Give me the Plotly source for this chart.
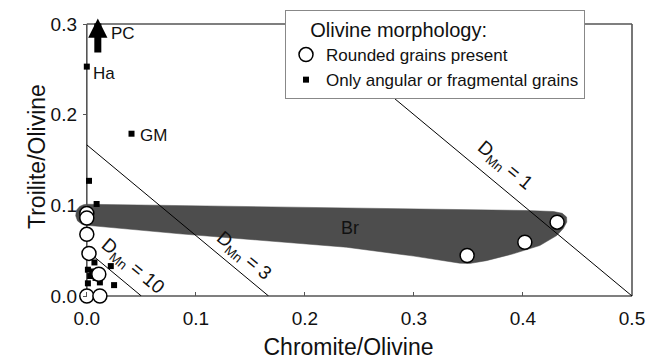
import plotly.graph_objects as go

# ---- data ----
rounded_x = [0.0, 0.0, 0.0, 0.002, 0.011, 0.0, 0.012, 0.3488, 0.4017, 0.4313]
rounded_y = [0.091, 0.086, 0.068, 0.047, 0.024, 0.0, 0.0, 0.0447, 0.0593, 0.0814]

angular_x = [0.0, 0.041, 0.002, 0.009, 0.007, 0.001, 0.005, 0.003, 0.008, 0.001, 0.012, 0.022, 0.025]
angular_y = [0.253, 0.179, 0.127, 0.1015, 0.037, 0.029, 0.027, 0.022, 0.020, 0.014, 0.015, 0.033, 0.012]

br_x = [0.0, 0.1, 0.2, 0.3, 0.403, 0.428, 0.436, 0.4400, 0.4402, 0.437, 0.431, 0.4155, 0.391,
        0.3665, 0.351, 0.342, 0.3, 0.238, 0.16, 0.0853, 0.0, -0.0045, -0.0085, -0.0102,
        -0.0095, -0.0065, -0.003, 0.0]
br_y = [0.1012, 0.0996, 0.098, 0.0962, 0.0943, 0.0932, 0.0912, 0.0870, 0.0815, 0.0745, 0.0667,
        0.0557, 0.0465, 0.039, 0.0358, 0.0362, 0.044, 0.0538, 0.0615, 0.0686, 0.078, 0.0792,
        0.0828, 0.0885, 0.0945, 0.0988, 0.1007, 0.1012]

dmn_values = [1, 3, 10]
dmn_intercepts = [0.5, 0.1667, 0.05]
dmn_label_x = [0.383, 0.143, 0.042]
dmn_label_y = [0.143, 0.0436, 0.0325]

point_labels = ["Ha", "GM", "PC"]
point_label_x = [0.0037, 0.047, 0.02]
point_label_y = [0.2457, 0.177, 0.289]

pc_arrow_x = 0.0101
pc_arrow_tail = 0.267
pc_arrow_tip = 0.306

br_label = "Br"
br_label_x = 0.241
br_label_y = 0.075

x_ticks = [0.0, 0.1, 0.2, 0.3, 0.4, 0.5]
x_ticktext = ["0.0", "0.1", "0.2", "0.3", "0.4", "0.5"]
y_ticks = [0.0, 0.1, 0.2, 0.3]
y_ticktext = ["0.0", "0.1", "0.2", "0.3"]

x_title = "Chromite/Olivine"
y_title = "Troilite/Olivine"

x_range = [-0.02, 0.5]
y_range = [0.0, 0.3]

FONT = "Liberation Sans, Arial, sans-serif"
INK = "#111111"

fig = go.Figure()

# Br field
fig.add_trace(go.Scatter(x=br_x, y=br_y, mode="lines", fill="toself",
                         fillcolor="#4d4d4d", line=dict(color="#4d4d4d", width=0.5),
                         showlegend=False, hoverinfo="skip"))

# D_Mn lines
for d, c in zip(dmn_values, dmn_intercepts):
    fig.add_trace(go.Scatter(x=[0.0, c], y=[c, 0.0], mode="lines",
                             line=dict(color="black", width=1),
                             showlegend=False, hoverinfo="skip"))

# angular grains
fig.add_trace(go.Scatter(x=angular_x, y=angular_y, mode="markers",
                         name="Only angular or fragmental grains", legendrank=2,
                         marker=dict(symbol="square", size=6, color="black",
                                     line=dict(width=0)),
                         cliponaxis=False))
# rounded grains
fig.add_trace(go.Scatter(x=rounded_x, y=rounded_y, mode="markers",
                         name="Rounded grains present", legendrank=1,
                         marker=dict(symbol="circle", size=14, color="white",
                                     line=dict(color="black", width=1.5)),
                         cliponaxis=False))

annotations = []
angle = 39.75
for d, lx, ly in zip(dmn_values, dmn_label_x, dmn_label_y):
    annotations.append(dict(x=lx, y=ly, xref="x", yref="y", showarrow=False,
                            text=f"D<sub>Mn</sub> = {d}", textangle=angle,
                            font=dict(family=FONT, size=19, color=INK)))
for t, lx, ly in zip(point_labels, point_label_x, point_label_y):
    annotations.append(dict(x=lx, y=ly, xref="x", yref="y", showarrow=False,
                            text=t, xanchor="left",
                            font=dict(family=FONT, size=17, color=INK)))
annotations.append(dict(x=br_label_x, y=br_label_y, xref="x", yref="y", showarrow=False,
                        text=br_label, font=dict(family=FONT, size=18, color=INK)))
annotations.append(dict(x=pc_arrow_x, y=pc_arrow_tip, ax=pc_arrow_x, ay=pc_arrow_tail,
                        xref="x", yref="y", axref="x", ayref="y", text="",
                        showarrow=True, arrowhead=2, arrowsize=0.55, arrowwidth=7,
                        arrowcolor="black", standoff=0))
# y-axis title (placed left of the tick labels)
annotations.append(dict(x=(22 - 65) / 567, y=(296 - 157) / 272, xref="paper", yref="paper",
                        showarrow=False, text=y_title, textangle=-90,
                        font=dict(family=FONT, size=23, color=INK)))

# frame (drawn in paper coordinates so the plot area can extend left of x=0)
x0p = (0.0 - x_range[0]) / (x_range[1] - x_range[0])
frame = dict(type="line", xref="paper", yref="paper", layer="below",
             line=dict(color="#555555", width=1.6))
shapes = [
    dict(frame, x0=x0p, x1=x0p, y0=0, y1=1),
    dict(frame, x0=x0p, x1=1, y0=1, y1=1),
    dict(frame, x0=1, x1=1, y0=0, y1=1),
    dict(frame, x0=x0p, x1=1, y0=0, y1=0),
]

fig.update_layout(
    width=651, height=360,
    margin=dict(l=65, r=19, t=24, b=64, autoexpand=False),
    plot_bgcolor="white", paper_bgcolor="white",
    font=dict(family=FONT, color=INK),
    annotations=annotations, shapes=shapes,
    legend=dict(xref="container", yref="container",
                x=285 / 651, y=1 - 10 / 360, xanchor="left", yanchor="top",
                bgcolor="white", bordercolor="#888888", borderwidth=1,
                font=dict(family=FONT, size=17, color=INK),
                title=dict(text="\u00a0\u00a0\u00a0\u00a0Olivine morphology:",
                           font=dict(family=FONT, size=20, color=INK)),
                itemsizing="trace"),
    xaxis=dict(range=x_range, tickvals=x_ticks, ticktext=x_ticktext,
               ticks="inside", ticklen=4, tickcolor="#555555",
               ticklabelstandoff=9,
               showline=False, zeroline=False, showgrid=False,
               tickfont=dict(family=FONT, size=19, color=INK),
               title=dict(text=x_title, standoff=16,
                          font=dict(family=FONT, size=23, color=INK))),
    yaxis=dict(range=y_range, anchor="free", position=x0p,
               tickvals=y_ticks, ticktext=y_ticktext,
               ticks="outside", ticklen=4, tickcolor="#555555",
               ticklabelstandoff=2,
               showline=False, zeroline=False, showgrid=False,
               tickfont=dict(family=FONT, size=19, color=INK)),
)

fig.write_html("out.html", config={"displayModeBar": False},
               post_script="document.body.style.margin='0px';")
